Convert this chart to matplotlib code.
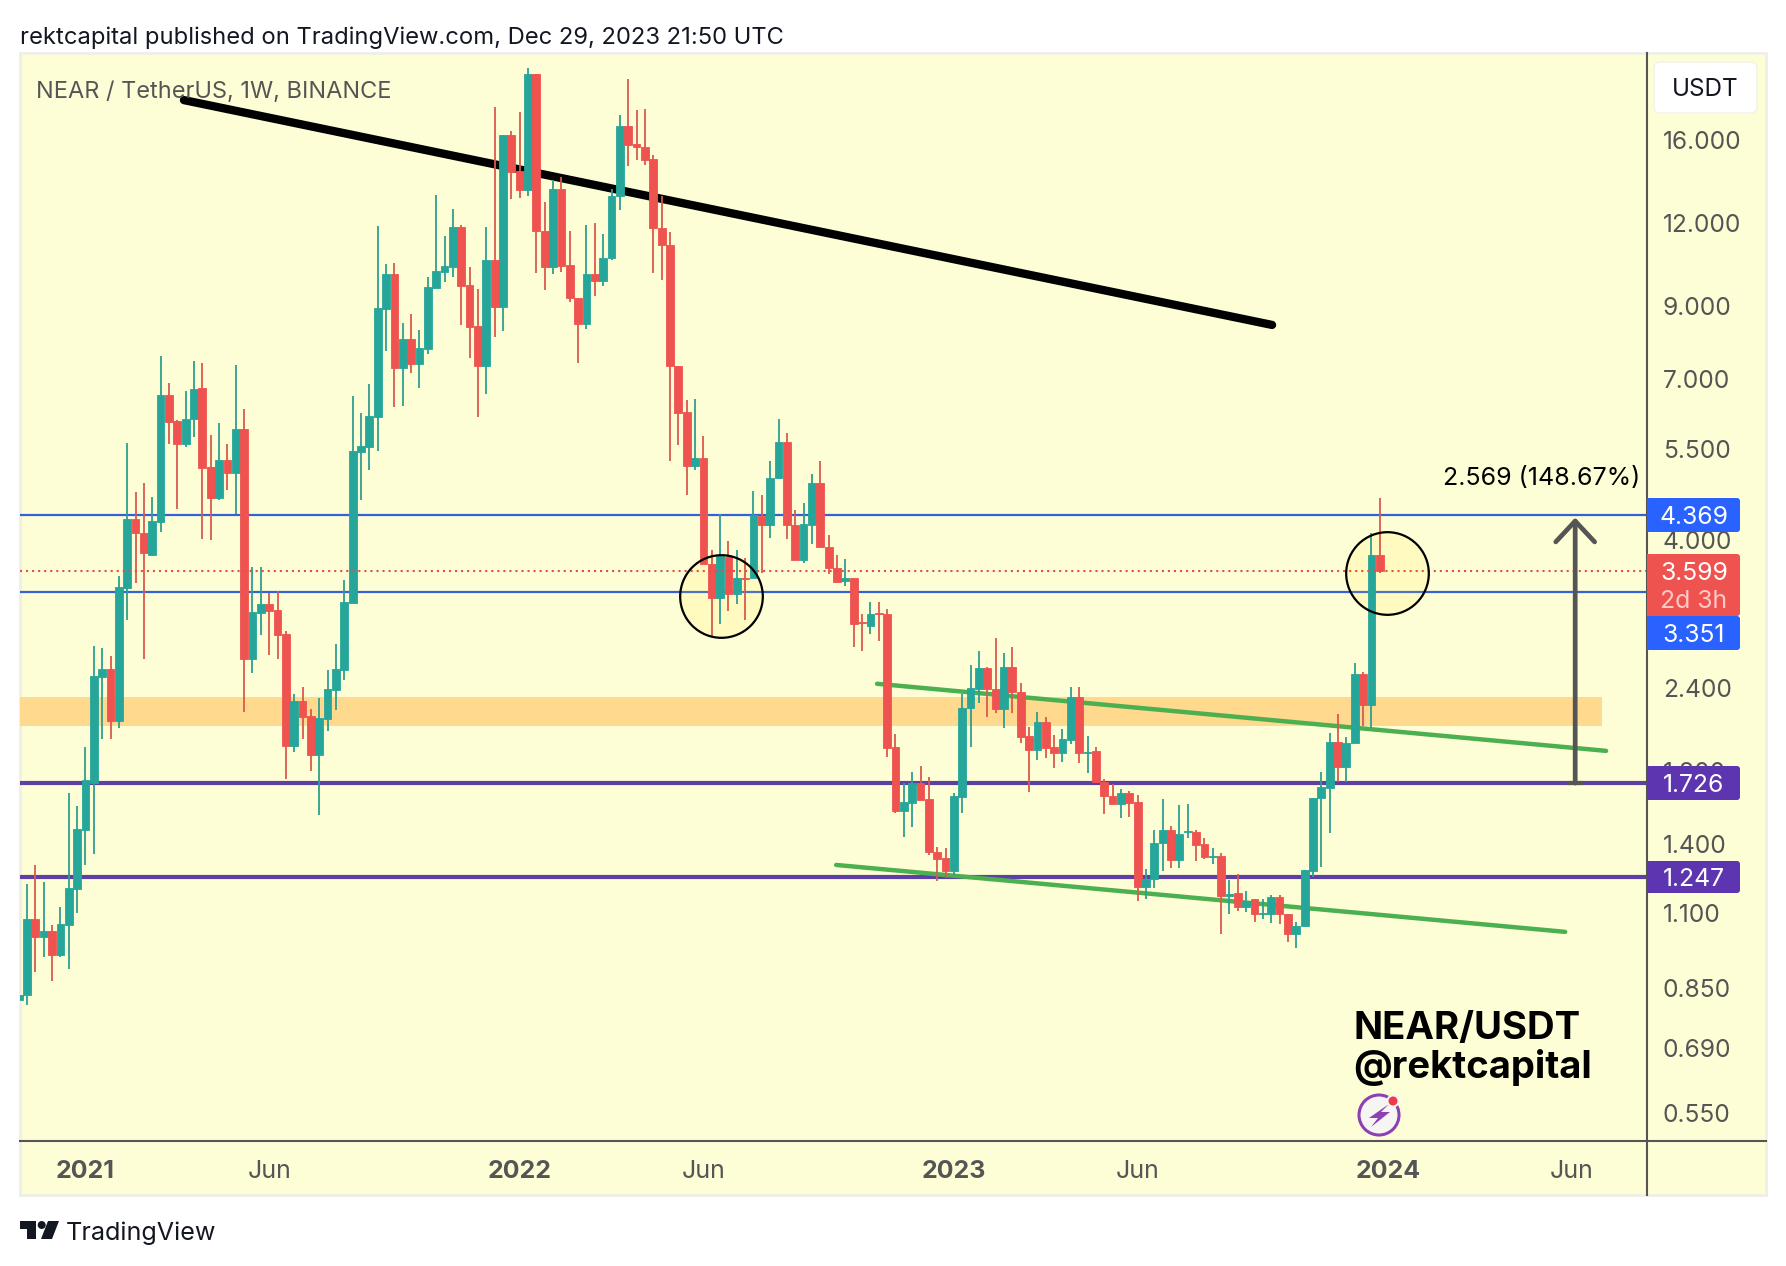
import numpy as np
import matplotlib
matplotlib.use("Agg")
import matplotlib.pyplot as plt
from matplotlib.lines import Line2D
from matplotlib.patches import Circle, FancyBboxPatch, Polygon, Rectangle
from matplotlib.transforms import Affine2D

plt.rcParams["font.family"] = ["Inter", "DejaVu Sans"]

W, H = 1786, 1266

# weekly candles, first one is the cut off bar at the left edge
first_bar = -1
directions = (
    "GGRGRGGGGG" "GRGGRRGGRR" "GGRRGRGRGG" "RRRGRRGGGG" "GGGGGRGRGG" "GGGRRRGRGR"
    "RGRRGRRRGR" "GGGRRRRRRR" "RGRRGRGRGR" "GGRRGGRRRG" "RRGRRRGGRR" "RRGGGGRRGR"
    "RRGRRGGRGR" "RRGRRGGGRG" "GRRGRGRGRG" "GRRGGGGGRG" "GRGR"
)
body_tops = [
    0.829, 1.079, 1.079, 1.034, 1.034, 1.060, 1.201, 1.473, 1.745, 2.50,
    2.564, 2.564, 3.41, 4.315, 4.315, 4.11, 4.285, 6.625, 6.625, 6.05,
    6.09, 6.76, 6.78, 5.16, 5.29, 5.29, 5.89, 5.89, 3.12, 3.21,
    3.21, 3.145, 2.895, 2.293, 2.293, 2.18, 2.165, 2.393, 2.564, 3.233,
    5.45, 5.55, 6.16, 8.95, 10.07, 10.07, 8.04, 8.04, 7.79, 9.63,
    10.17, 10.35, 11.85, 11.85, 9.69, 8.41, 10.57, 10.57, 16.29, 16.29,
    14.38, 20.13, 20.13, 11.69, 13.51, 13.51, 10.39, 9.26, 10.07, 10.07,
    10.64, 13.19, 16.81, 16.81, 15.79, 15.63, 14.99, 11.81, 11.13, 7.32,
    6.24, 5.32, 5.32, 3.69, 3.79, 3.78, 3.515, 3.515, 4.369, 4.355,
    4.97, 5.63, 5.63, 4.22, 4.24, 4.88, 4.88, 3.91, 3.635, 3.515,
    3.515, 3.02, 3.10, 3.11, 3.10, 1.956, 1.617, 1.727, 1.727, 1.634,
    1.36, 1.332, 1.651, 2.24, 2.40, 2.573, 2.573, 2.393, 2.582, 2.582,
    2.37, 2.033, 2.135, 2.135, 1.956, 2.012, 2.325, 2.325, 1.923, 1.93,
    1.733, 1.651, 1.669, 1.669, 1.617, 1.239, 1.403, 1.468, 1.468, 1.448,
    1.463, 1.458, 1.399, 1.341, 1.341, 1.176, 1.18, 1.148, 1.156, 1.102,
    1.164, 1.164, 1.098, 1.053, 1.278, 1.639, 1.703, 1.992, 1.992, 1.985,
    2.52, 2.52, 3.805, 3.805,
]
body_bottoms = [
    0.815, 0.829, 1.013, 1.013, 0.952, 0.952, 1.056, 1.197, 1.468, 1.727,
    2.495, 2.143, 2.143, 3.395, 4.11, 3.83, 3.805, 4.265, 6.03, 5.59,
    5.59, 6.09, 5.145, 4.63, 4.63, 5.055, 5.055, 2.655, 2.655, 3.11,
    3.135, 2.885, 1.963, 1.963, 2.17, 1.903, 1.903, 2.157, 2.385, 2.555,
    3.222, 5.435, 5.53, 6.13, 8.92, 7.27, 7.27, 7.37, 7.37, 7.765,
    9.595, 10.14, 10.32, 9.66, 8.38, 7.32, 7.32, 8.98, 8.98, 14.33,
    13.47, 13.47, 11.69, 10.32, 10.32, 10.35, 9.26, 8.47, 8.47, 9.83,
    9.83, 10.64, 13.19, 15.74, 15.63, 14.94, 11.81, 11.13, 7.32, 6.22,
    5.18, 5.18, 3.69, 3.28, 3.28, 3.32, 3.32, 3.50, 3.515, 4.22,
    4.22, 4.97, 4.22, 3.74, 3.74, 4.22, 3.91, 3.635, 3.465, 3.48,
    2.995, 3.005, 2.97, 3.10, 1.95, 1.568, 1.568, 1.612, 1.628, 1.36,
    1.327, 1.274, 1.274, 1.645, 2.24, 2.393, 2.393, 2.232, 2.232, 2.37,
    2.026, 1.936, 1.936, 1.95, 1.916, 1.916, 2.005, 1.916, 1.916, 1.733,
    1.651, 1.606, 1.606, 1.612, 1.205, 1.205, 1.239, 1.403, 1.323, 1.323,
    1.458, 1.394, 1.337, 1.337, 1.168, 1.168, 1.124, 1.124, 1.098, 1.098,
    1.098, 1.098, 1.024, 1.024, 1.053, 1.274, 1.639, 1.698, 1.825, 1.825,
    1.985, 2.262, 2.262, 3.599,
]
highs = [
    0.829, 1.218, 1.30, 1.227, 1.056, 1.124, 1.669, 1.595, 1.956, 2.775,
    2.76, 2.68, 3.54, 5.61, 4.73, 4.88, 4.65, 7.58, 6.91, 6.07,
    6.72, 7.45, 7.40, 5.77, 6.01, 5.59, 7.35, 6.31, 3.65, 3.65,
    3.335, 3.36, 2.925, 2.35, 2.41, 2.232, 2.315, 2.555, 2.795, 3.49,
    6.60, 6.22, 6.88, 11.9, 10.42, 10.46, 8.50, 8.77, 8.29, 9.96,
    13.24, 11.49, 12.61, 11.94, 10.32, 9.56, 11.85, 17.95, 16.29, 16.52,
    17.65, 20.55, 20.13, 12.92, 13.94, 14.08, 11.69, 9.26, 11.94, 12.01,
    11.57, 13.51, 17.47, 19.78, 17.77, 17.83, 15.2, 13.19, 11.65, 7.32,
    6.51, 6.53, 5.75, 3.87, 4.385, 3.995, 3.87, 3.77, 4.75, 4.68,
    5.27, 6.09, 5.81, 4.45, 4.555, 5.04, 5.27, 4.08, 3.805, 3.755,
    3.515, 3.10, 3.23, 3.23, 3.155, 2.047, 1.727, 1.794, 1.83, 1.763,
    1.384, 1.38, 1.669, 2.353, 2.60, 2.73, 2.582, 2.855, 2.71, 2.765,
    2.44, 2.097, 2.21, 2.17, 2.04, 2.082, 2.41, 2.41, 2.033, 1.956,
    1.751, 1.72, 1.692, 1.68, 1.657, 1.282, 1.468, 1.634, 1.488, 1.60,
    1.606, 1.468, 1.428, 1.38, 1.355, 1.235, 1.26, 1.189, 1.156, 1.156,
    1.172, 1.172, 1.098, 1.067, 1.278, 1.639, 1.794, 2.054, 2.195, 2.026,
    2.62, 2.537, 4.11, 4.63,
]
lows = [
    0.80, 0.801, 0.898, 0.945, 0.870, 0.946, 0.907, 1.102, 1.30, 1.351,
    2.012, 2.012, 2.09, 3.04, 3.45, 2.655, 3.79, 4.12, 5.59, 4.465,
    5.53, 5.73, 4.025, 4.01, 4.60, 4.77, 4.385, 2.21, 2.53, 2.885,
    2.69, 2.655, 1.751, 1.923, 2.012, 1.80, 1.546, 2.068, 2.225, 2.47,
    3.222, 4.60, 5.11, 5.45, 7.71, 6.35, 6.38, 7.15, 6.79, 7.64,
    9.595, 9.79, 9.96, 8.44, 7.53, 6.135, 6.65, 8.09, 8.26, 13.05,
    13.1, 13.19, 10.1, 9.53, 10.07, 10.14, 9.14, 7.40, 8.32, 9.33,
    9.66, 10.57, 12.57, 14.63, 14.94, 14.68, 10.1, 9.86, 5.27, 5.57,
    4.68, 5.11, 3.69, 2.865, 3.0, 3.135, 3.21, 3.04, 3.515, 3.57,
    4.04, 4.97, 4.025, 3.74, 3.70, 3.955, 3.91, 3.56, 3.465, 3.42,
    2.77, 2.73, 2.895, 2.825, 1.89, 1.557, 1.433, 1.483, 1.628, 1.345,
    1.231, 1.244, 1.257, 1.557, 1.956, 2.28, 2.17, 2.20, 2.09, 2.20,
    1.985, 1.674, 1.87, 1.883, 1.819, 1.857, 1.978, 1.85, 1.787, 1.733,
    1.551, 1.606, 1.53, 1.536, 1.148, 1.156, 1.201, 1.274, 1.287, 1.287,
    1.428, 1.319, 1.327, 1.305, 1.024, 1.098, 1.109, 1.105, 1.067, 1.079,
    1.064, 1.06, 0.996, 0.976, 1.049, 1.248, 1.291, 1.453, 1.733, 1.733,
    1.985, 2.105, 2.09, 3.57,
]

# levels and drawings, in (bar, price)
blue_levels = [4.369, 3.351]
purple_levels = [1.726, 1.247]
last_price = 3.599
zone_prices = [2.105, 2.325]
zone_end_bar = 188.6
black_line = ([18.8, 149.1], [18.39, 8.44])
green_upper = ([101.8, 189.1], [2.435, 1.93])
green_lower = ([96.9, 184.2], [1.30, 1.031])
circles = ([83.05, 162.9], [3.30, 3.57])
arrow_bar = 185.4
arrow_prices = [1.726, 4.33]

y_ticks = [16, 12, 9, 7, 5.5, 4, 2.4, 1.8, 1.4, 1.1, 0.85, 0.69, 0.55]
x_ticks = [7, 29, 59, 81, 111, 133, 163, 185]
x_labels = ["2021", "Jun", "2022", "Jun", "2023", "Jun", "2024", "Jun"]

fig = plt.figure(figsize=(W / 100, H / 100), dpi=100, facecolor="white")
px = Affine2D().scale(1, -1).translate(0, H)  # image pixels, origin top left

panel = "#FEFED6"
fig.add_artist(Rectangle((20, 53), 1746, 1142, transform=px, fc=panel, ec="#EFEFE6", lw=2, zorder=-5))

ax = fig.add_axes([20 / W, 1 - 1141 / H, 1627 / W, 1088 / H], facecolor="none")
ax.set_yscale("log")
ax.set_xlim(-0.838, 194.0)
ax.set_ylim(0.4996, 21.65)
for s in ax.spines.values():
    s.set_visible(False)

ax.axhspan(zone_prices[0], zone_prices[1], xmin=0, xmax=(zone_end_bar + 0.838) / 194.838, color="#FFD98E", lw=0, zorder=1)
for lvl in blue_levels:
    ax.axhline(lvl, color="#3460D8", lw=1.6, zorder=2)
for lvl in purple_levels:
    ax.axhline(lvl, color="#5E3FA3", lw=3, zorder=2)
ax.plot(*black_line, color="black", lw=6, solid_capstyle="round", zorder=2)
ax.plot(*green_upper, color="#4CAF50", lw=3.2, solid_capstyle="round", zorder=2)
ax.plot(*green_lower, color="#4CAF50", lw=3.2, solid_capstyle="round", zorder=2)

# circle fill sits under the candles, the ring over them
ax.plot(*circles, ls="none", marker="o", ms=59.5, mfc=(1, 0.9, 0.25, 0.14), mec="none", zorder=2.5)

bars = np.arange(first_bar, first_bar + len(directions))
body_tops = np.array(body_tops)
body_bottoms = np.array(body_bottoms)
colors = ["#26A69A" if d == "G" else "#EF5350" for d in directions]
wick_colors = ["#2F9E92" if d == "G" else "#D9594F" for d in directions]
ax.vlines(bars, lows, highs, colors=wick_colors, lw=1.3, zorder=3)
ax.bar(bars, body_tops - body_bottoms, bottom=body_bottoms, width=0.93, color=colors, edgecolor=colors, lw=0.6, zorder=3.2)

ax.axhline(last_price, color="#E0504A", lw=1.5, ls=(0, (1, 1.9)), zorder=3.5)

ax.plot(*circles, ls="none", marker="o", ms=59.5, mfc="none", mec="black", mew=1.6, zorder=4)

ax.annotate(
    "", xy=(arrow_bar, arrow_prices[1]), xytext=(arrow_bar, arrow_prices[0]),
    arrowprops=dict(arrowstyle="->,head_length=15,head_width=14", mutation_scale=1, color="#555555", lw=3.4,
                    shrinkA=0, shrinkB=0),
    zorder=5,
)
ax.plot([arrow_bar], [arrow_prices[0]], marker="_", ms=12, mew=3, color="#555555", zorder=5)

ax.yaxis.tick_right()
ax.set_yticks(y_ticks)
ax.set_yticklabels([f"{v:.3f}" for v in y_ticks])
ax.yaxis.set_minor_locator(plt.NullLocator())
ax.tick_params(axis="y", length=0, pad=11.5, labelsize=17.7, labelcolor="#555555")
ax.set_xticks(x_ticks)
ax.set_xticklabels(x_labels)
ax.tick_params(axis="x", length=0, pad=14, labelsize=18, labelcolor="#555555")
for lab in ax.get_xticklabels():
    if lab.get_text() != "Jun":
        lab.set_fontweight("bold")

# scale lines run through the panel
fig.add_artist(Line2D([1647, 1647], [53, 1195], transform=px, color="#555555", lw=1.5, zorder=6))
fig.add_artist(Line2D([20, 1766], [1141, 1141], transform=px, color="#555555", lw=1.5, zorder=6))


def price_tag(y0, y1, color):
    fig.add_artist(FancyBboxPatch((1650, y0 + 3), 87, y1 - y0 - 6, boxstyle="round,pad=3", transform=px,
                                  fc=color, ec="none", zorder=7))
    fig.add_artist(Rectangle((1647, y0), 20, y1 - y0, transform=px, fc=color, ec="none", zorder=7))


def label(x, y, text, **kw):
    kw.setdefault("va", "center_baseline")
    kw.setdefault("zorder", 8)
    fig.text(x, y, text, transform=px, **kw)


tags = [
    (498, 532, "#2962FF", "4.369", 515),
    (554, 616, "#EF5350", "3.599", 571),
    (616, 650, "#2962FF", "3.351", 633),
    (766, 800, "#5E35B1", "1.726", 783),
    (861, 893, "#5E35B1", "1.247", 877),
]
for y0, y1, col, txt, yc in tags:
    price_tag(y0, y1, col)
    label(1694, yc, txt, color="white", fontsize=17.8, ha="center")
label(1694, 599, "2d 3h", color="#FFC9C6", fontsize=17.8, ha="center")

fig.add_artist(FancyBboxPatch((1660, 68), 91, 39, boxstyle="round,pad=6", transform=px, fc="white",
                              ec="#F2F2EA", lw=1, zorder=7))
label(1705, 87, "USDT", color="#131722", fontsize=17.5, ha="center")

label(20, 35, "rektcapital published on TradingView.com, Dec 29, 2023 21:50 UTC", color="#131722", fontsize=17.1)
label(36, 89, "NEAR / TetherUS, 1W, BINANCE", color="#555555", fontsize=16.95)
label(1640, 476, "2.569 (148.67%)", color="black", fontsize=18, ha="right")
label(1353, 1039, "NEAR/USDT", color="black", fontsize=27.6, fontweight="bold", va="baseline")
label(1353, 1078, "@rektcapital", color="black", fontsize=27.5, fontweight="bold", va="baseline")

# small lightning badge under the handle
fig.add_artist(Circle((1379, 1115), 20, transform=px, fc="#F7F5F2", ec="#8E3FB5", lw=2.2, zorder=7))
fig.add_artist(Polygon([(1389, 1104), (1369, 1118), (1378, 1118), (1371, 1127), (1390, 1112), (1381, 1112)],
                       closed=True, transform=px, fc="#8E3FB5", ec="none", zorder=8))
fig.add_artist(Circle((1393, 1101), 6.5, transform=px, fc="#F7F5F2", ec="none", zorder=8))
fig.add_artist(Circle((1393, 1101), 4.5, transform=px, fc="#EE3B4B", ec="none", zorder=9))

# TradingView mark and name
logo = "#131722"
fig.add_artist(Polygon([(20, 1221), (36, 1221), (36, 1239), (27, 1239), (27, 1229), (20, 1229)], closed=True,
                       transform=px, fc=logo, ec="none"))
fig.add_artist(Circle((41.7, 1225), 4, transform=px, fc=logo, ec="none"))
fig.add_artist(Polygon([(48, 1221), (59, 1221), (52, 1239), (41, 1239)], closed=True, transform=px, fc=logo, ec="none"))
label(66, 1240, "TradingView", color=logo, fontsize=18.1, va="baseline")

fig.savefig("out.png", dpi=100)
